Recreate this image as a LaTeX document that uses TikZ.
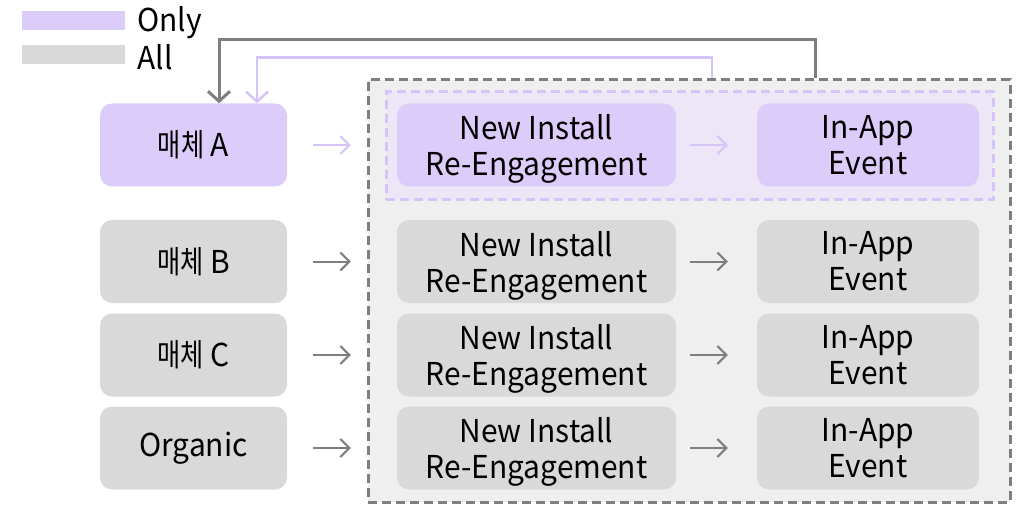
\documentclass[tikz,border=0pt]{standalone}
\usepackage{fontspec}
\setmainfont[FakeStretch=0.95]{Noto Sans CJK KR}
\newfontfamily\krfont[FakeStretch=0.8]{Noto Sans CJK KR}
\usepackage{tikz}
\usetikzlibrary{arrows.meta,positioning}

\definecolor{onlyfill}{HTML}{DCCCFA}
\definecolor{onlyline}{HTML}{D6C4F8}
\definecolor{onlyzone}{HTML}{EDE6F7}
\definecolor{allfill}{HTML}{D9D9D9}
\definecolor{allzone}{HTML}{EFEFEF}
\definecolor{linegray}{HTML}{7F7F7F}

% last line without descender, so the two lines sit centred in the box
\newcommand{\nodepth}[1]{\raisebox{0pt}[\height][0pt]{#1}}

\begin{document}
\begin{tikzpicture}[x=1pt, y=-1pt, font=\fontsize{31.5}{36}\selectfont]

\tikzstyle{onlybox} = [rectangle, rounded corners=12pt, fill=onlyfill,
                       minimum height=83pt, inner sep=0pt, align=center]
\tikzstyle{allbox}  = [rectangle, rounded corners=12pt, fill=allfill,
                       minimum height=83pt, inner sep=0pt, align=center]
\tikzstyle{flow}    = [-{Straight Barb[length=9pt,width=18pt]}, line width=2pt]
\tikzstyle{loop}    = [-{Straight Barb[length=10pt,width=22pt]}]

\useasboundingbox (0,0) rectangle (1020,505);

% ── Legend ───────────────────────────────────────────
\node[fill=onlyfill, minimum width=103pt, minimum height=19pt, inner sep=0pt]
      (keyOnly) at (73.5,20.5) {};
\node[fill=allfill, minimum width=103pt, minimum height=19pt, inner sep=0pt]
      (keyAll) at (73.5,55) {};
\node[right=12pt of keyOnly, inner sep=0pt, yshift=-2pt] (txtOnly) {Only};
\node[right=12pt of keyAll, inner sep=0pt, yshift=-2pt]  (txtAll)  {All};

% ── Tracking zones ───────────────────────────────────
\node[draw=linegray, fill=allzone, line width=3pt, dash pattern=on 9pt off 5pt,
      minimum width=642pt, minimum height=422pt, inner sep=0pt]
      (zoneAll) at (689,291) {};
\node[draw=onlyline, fill=onlyzone, line width=3pt, dash pattern=on 9pt off 5pt,
      minimum width=607pt, minimum height=108pt, inner sep=0pt]
      (zoneOnly) at (689.5,146) {};

% ── Left column: sources ─────────────────────────────
\node[onlybox, minimum width=187pt] (srcA)   at (193.5,145)   {{\krfont 매체} A};
\node[allbox,  minimum width=187pt] (srcB)   at (193.5,261.5) {{\krfont 매체} B};
\node[allbox,  minimum width=187pt] (srcC)   at (193.5,355)   {{\krfont 매체} C};
\node[allbox,  minimum width=187pt] (srcOrg) at (193.5,448)   {Organic};

% ── Middle column: install / re-engagement ───────────
\node[onlybox, minimum width=279pt] (instA)   at (536.5,145)   {New Install\\\nodepth{Re-Engagement}};
\node[allbox,  minimum width=279pt] (instB)   at (536.5,261.5) {New Install\\\nodepth{Re-Engagement}};
\node[allbox,  minimum width=279pt] (instC)   at (536.5,355)   {New Install\\\nodepth{Re-Engagement}};
\node[allbox,  minimum width=279pt] (instOrg) at (536.5,448)   {New Install\\\nodepth{Re-Engagement}};

% ── Right column: in-app events ──────────────────────
\node[onlybox, minimum width=222pt] (evA)   at (868,145)   {In-App\\Event};
\node[allbox,  minimum width=222pt] (evB)   at (868,261.5) {In-App\\Event};
\node[allbox,  minimum width=222pt] (evC)   at (868,355)   {In-App\\Event};
\node[allbox,  minimum width=222pt] (evOrg) at (868,448)   {In-App\\Event};

% ── Arrows: rows ─────────────────────────────────────
\draw[flow, onlyline, shorten <=26pt, shorten >=46pt] (srcA) -- (instA);
\draw[flow, onlyline, shorten <=14pt, shorten >=29pt] (instA) -- (evA);
\foreach \r in {B,C,Org} {
  \draw[flow, linegray, shorten <=26pt, shorten >=46pt] (src\r) -- (inst\r);
  \draw[flow, linegray, shorten <=14pt, shorten >=29pt] (inst\r) -- (ev\r);
}

% ── Arrows: back to 매체 A ───────────────────────────
\draw[loop, linegray, line width=3pt]
  ([xshift=126pt]zoneAll.north) -- ++(0,-39) -| ([xshift=25.5pt]srcA.north);
\draw[loop, onlyline, line width=2.5pt]
  ([xshift=23pt]zoneAll.north) -- ++(0,-21) -| ([xshift=63.5pt]srcA.north);

\end{tikzpicture}
\end{document}
